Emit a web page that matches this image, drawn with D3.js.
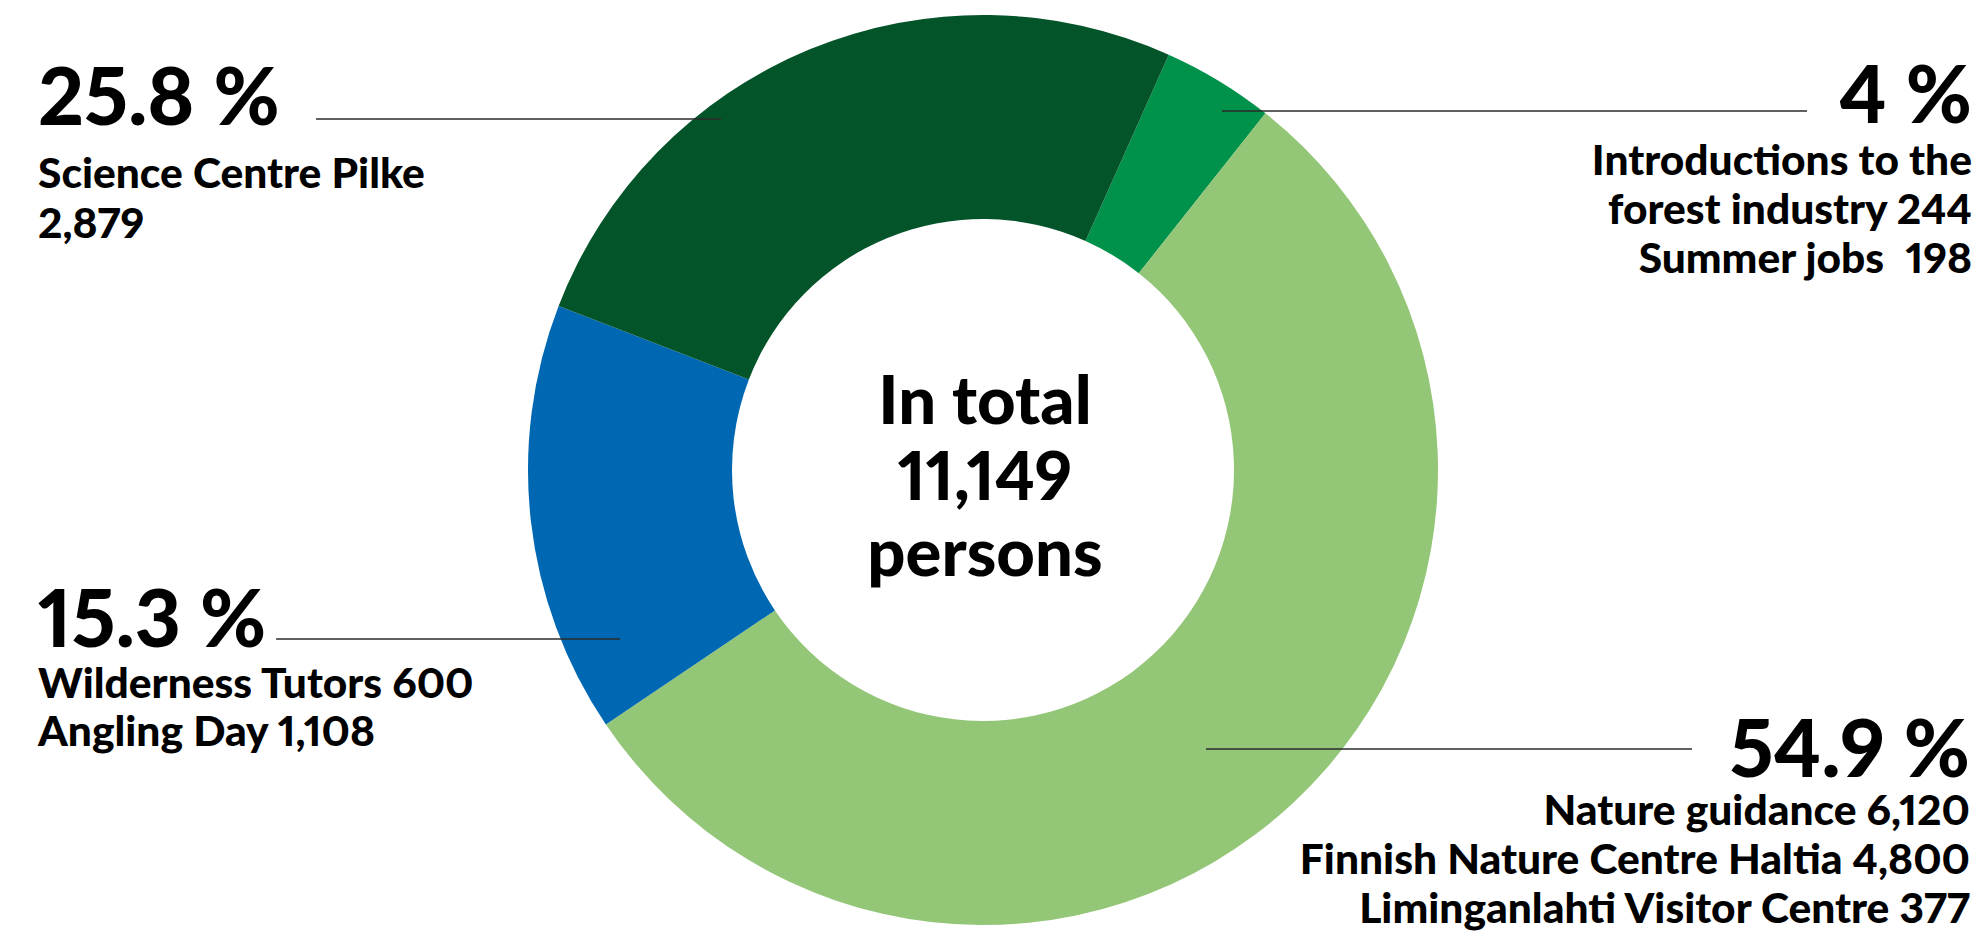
<!DOCTYPE html>
<html>
<head>
<meta charset="utf-8">
<script src="https://cdn.jsdelivr.net/npm/d3@7"></script>
<style>
  html, body { margin: 0; padding: 0; background: #fff; }
  svg { display: block; }
  text { font-family: "Lato", "Open Sans", sans-serif; fill: #000; font-feature-settings: "pnum" 1; font-variant-numeric: proportional-nums; }
</style>
</head>
<body>
<svg id="chart" width="1984" height="935"></svg>
<script>
// Participants per activity
const forestIntro = 244;
const summerJobs = 198;
const natureGuidance = 6120;
const haltia = 4800;
const liminganlahti = 377;
const wildernessTutors = 600;
const anglingDay = 1108;
const pilke = 2879;

// Donut segments, clockwise
const segmentNames = ["Forest industry & summer jobs", "Nature guidance", "Wilderness & angling", "Science Centre Pilke"];
const segmentValues = [forestIntro + summerJobs, natureGuidance, wildernessTutors + anglingDay, pilke];
const segmentColors = ["#00914a", "#94c678", "#0068b2", "#04542a"];

const fmt = d3.format(",");
const detailLines = [
  ["Introductions to the", `forest industry ${fmt(forestIntro)}`, `Summer jobs\u2002${fmt(summerJobs)}`],
  [`Nature guidance ${fmt(natureGuidance)}`, `Finnish Nature Centre Haltia ${fmt(haltia)}`, `Liminganlahti Visitor Centre ${fmt(liminganlahti)}`],
  [`Wilderness Tutors ${fmt(wildernessTutors)}`, `Angling Day ${fmt(anglingDay)}`],
  ["Science Centre Pilke", fmt(pilke)]
];

// Label placement for each segment
const labelLayout = [
  { anchor: "end",   x: 1972, pctY: 123, firstY: 175, step: 49, lineY: 111, lineFrom: 1222, lineTo: 1807 },
  { anchor: "end",   x: 1970, pctY: 777, firstY: 825, step: 49, lineY: 749, lineFrom: 1206, lineTo: 1692 },
  { anchor: "start", x: 38,   pctY: 647, firstY: 698, step: 48, lineY: 639, lineFrom: 620,  lineTo: 273 },
  { anchor: "start", x: 38,   pctY: 125, firstY: 188, step: 50, lineY: 119, lineFrom: 721,  lineTo: 316 }
];

const cx = 983, cy = 470, outerR = 455, innerR = 251;
const startDeg = 24.1;

const svg = d3.select("#chart");
const total = d3.sum(segmentValues);

const pie = d3.pie()
  .sort(null)
  .value(d => d)
  .startAngle(startDeg * Math.PI / 180)
  .endAngle(startDeg * Math.PI / 180 + 2 * Math.PI);

const arc = d3.arc().innerRadius(innerR).outerRadius(outerR);

const g = svg.append("g").attr("transform", `translate(${cx},${cy})`);
g.selectAll("path")
  .data(pie(segmentValues))
  .join("path")
  .attr("d", arc)
  .attr("fill", (d, i) => segmentColors[i]);

const leaderLayer = svg.append("g");

// Percentage and detail labels
const pctFmt = d3.format(".1~f");
const labels = svg.append("g").selectAll("g")
  .data(segmentValues)
  .join("g");

const pctText = labels.append("text")
  .attr("x", (d, i) => labelLayout[i].x)
  .attr("y", (d, i) => labelLayout[i].pctY)
  .attr("text-anchor", (d, i) => labelLayout[i].anchor)
  .style("font-size", "80px")
  .style("font-weight", 900)
  .text(d => `${pctFmt(d / total * 100)} %`);

labels.each(function (d, i) {
  const L = labelLayout[i];
  d3.select(this).selectAll("text.detail")
    .data(detailLines[i])
    .join("text")
    .attr("class", "detail")
    .attr("x", L.x)
    .attr("y", (t, j) => L.firstY + j * L.step)
    .attr("text-anchor", L.anchor)
    .style("font-size", "42.5px")
    .style("font-weight", 900)
    .text(t => t);
});

// Leader lines, kept clear of the percentage text
const gap = 10;
pctText.each(function (d, i) {
  const L = labelLayout[i];
  const box = this.getBBox();
  const outer = L.anchor === "start"
    ? Math.max(L.lineTo, box.x + box.width + gap)
    : Math.min(L.lineTo, box.x - gap);
  leaderLayer.append("line")
    .attr("x1", L.lineFrom)
    .attr("x2", outer)
    .attr("y1", L.lineY)
    .attr("y2", L.lineY)
    .attr("stroke", "#2b2b2b")
    .attr("stroke-width", 1.3);
});

// Total in the centre
const centerLines = ["In total", fmt(total), "persons"];
svg.append("g").selectAll("text")
  .data(centerLines)
  .join("text")
  .attr("x", cx + 2)
  .attr("y", (d, i) => 424 + i * 76)
  .attr("text-anchor", "middle")
  .style("font-size", "67px")
  .style("font-weight", 900)
  .text(d => d);
</script>
</body>
</html>
